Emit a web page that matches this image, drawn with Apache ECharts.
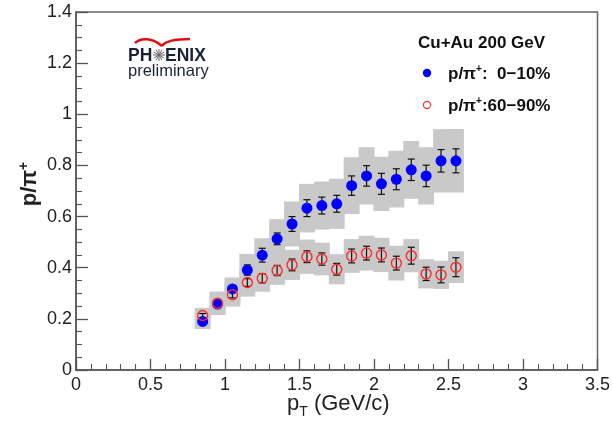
<!DOCTYPE html>
<html>
<head>
<meta charset="utf-8">
<script src="https://cdn.jsdelivr.net/npm/echarts@6/dist/echarts.min.js"></script>
<style>
  html, body { margin: 0; padding: 0; background: #fff; }
  #chart { width: 613px; height: 428px; }
</style>
</head>
<body>
<div id="chart"></div>
<script>
// pT bin centres (GeV/c)
const ptBins = [0.85, 0.95, 1.05, 1.15, 1.25, 1.35, 1.45, 1.55, 1.65, 1.75, 1.85, 1.95, 2.05, 2.15, 2.25, 2.35, 2.45, 2.55];

// p/pi+ 0-10% centrality
const central = [0.190, 0.258, 0.317, 0.391, 0.449, 0.513, 0.571, 0.633, 0.643, 0.650, 0.721, 0.759, 0.728, 0.746, 0.783, 0.759, 0.818, 0.818];
const centralStat = [0.008, 0.010, 0.012, 0.020, 0.027, 0.023, 0.029, 0.033, 0.033, 0.033, 0.038, 0.040, 0.041, 0.041, 0.042, 0.042, 0.044, 0.047];
const centralSys = [0.030, 0.040, 0.045, 0.063, 0.066, 0.077, 0.088, 0.095, 0.094, 0.098, 0.111, 0.112, 0.106, 0.111, 0.113, 0.112, 0.124, 0.124];

// p/pi+ 60-90% centrality
const peripheral = [0.213, 0.261, 0.294, 0.342, 0.359, 0.389, 0.411, 0.443, 0.434, 0.394, 0.446, 0.457, 0.450, 0.418, 0.447, 0.376, 0.372, 0.402];
const peripheralStat = [0.008, 0.010, 0.012, 0.015, 0.018, 0.020, 0.023, 0.023, 0.024, 0.023, 0.027, 0.027, 0.027, 0.027, 0.033, 0.026, 0.031, 0.037];
const peripheralSys = [0.030, 0.046, 0.046, 0.055, 0.053, 0.056, 0.059, 0.067, 0.064, 0.059, 0.066, 0.068, 0.067, 0.068, 0.065, 0.057, 0.055, 0.062];

const binWidth = 0.1;
const FONT = '"Liberation Sans", Arial, Helvetica, sans-serif';
const BOX_GRAY = '#c9c9c9';

function toRows(vals, stat, sys) {
  return ptBins.map((x, i) => [x, vals[i], stat[i], sys[i]]);
}
const centralRows = toRows(central, centralStat, centralSys);
const periphRows = toRows(peripheral, peripheralStat, peripheralSys);

function renderSysBox(params, api) {
  const x = api.value(0), y = api.value(1), s = api.value(3);
  const tl = api.coord([x - binWidth / 2, y + s]);
  const br = api.coord([x + binWidth / 2, y - s]);
  // widen by half a pixel so neighbouring boxes join without seams
  return {
    type: 'rect',
    shape: { x: tl[0] - 0.5, y: tl[1], width: br[0] - tl[0] + 1, height: br[1] - tl[1] },
    style: { fill: BOX_GRAY }
  };
}

function renderErrBar(params, api) {
  const x = api.value(0), y = api.value(1), e = api.value(2);
  const hi = api.coord([x, y + e]);
  const lo = api.coord([x, y - e]);
  const cap = 3.5;
  const st = { stroke: '#111', lineWidth: 1.2 };
  return {
    type: 'group',
    children: [
      { type: 'line', shape: { x1: hi[0], y1: hi[1], x2: lo[0], y2: lo[1] }, style: st },
      { type: 'line', shape: { x1: hi[0] - cap, y1: hi[1], x2: hi[0] + cap, y2: hi[1] }, style: st },
      { type: 'line', shape: { x1: lo[0] - cap, y1: lo[1], x2: lo[0] + cap, y2: lo[1] }, style: st }
    ]
  };
}

const chart = echarts.init(document.getElementById('chart'));

chart.setOption({
  animation: false,
  grid: {
    left: 76, right: 11, top: 12, bottom: 58,
    show: true, borderColor: '#666', borderWidth: 1.5, backgroundColor: 'transparent'
  },
  xAxis: {
    type: 'value', min: 0, max: 3.5, interval: 0.5,
    axisLine: { show: true, onZero: false, lineStyle: { color: '#555', width: 1.5 } },
    axisTick: { inside: true, length: 11, lineStyle: { color: '#555', width: 1.3 } },
    minorTick: { show: true, splitNumber: 5, length: 6, lineStyle: { color: '#555', width: 1.1 } },
    splitLine: { show: false },
    axisLabel: { color: '#222', fontSize: 18, fontFamily: FONT, margin: 6 }
  },
  yAxis: {
    type: 'value', min: 0, max: 1.4, interval: 0.2,
    axisLine: { show: true, onZero: false, lineStyle: { color: '#555', width: 1.5 } },
    axisTick: { inside: true, length: 12, lineStyle: { color: '#555', width: 1.3 } },
    minorTick: { show: true, splitNumber: 4, length: 6, lineStyle: { color: '#555', width: 1.1 } },
    splitLine: { show: false },
    axisLabel: { color: '#222', fontSize: 18, fontFamily: FONT, margin: 4 }
  },
  series: [
    { type: 'custom', name: 'sys central', data: centralRows, renderItem: renderSysBox, z: 1 },
    { type: 'custom', name: 'sys peripheral', data: periphRows, renderItem: renderSysBox, z: 1 },
    { type: 'custom', name: 'stat central', data: centralRows, renderItem: renderErrBar, z: 3 },
    { type: 'custom', name: 'stat peripheral', data: periphRows, renderItem: renderErrBar, z: 3 },
    {
      type: 'scatter', name: 'p/pi+ 0-10%', data: centralRows.map(r => [r[0], r[1]]),
      symbol: 'circle', symbolSize: 11, z: 4,
      itemStyle: { color: '#0000ff', opacity: 1 }
    },
    {
      type: 'scatter', name: 'p/pi+ 60-90%', data: periphRows.map(r => [r[0], r[1]]),
      symbol: 'circle', symbolSize: 10, z: 5,
      itemStyle: { color: 'rgba(0,0,0,0)', borderColor: '#ff2a2a', borderWidth: 1.4, opacity: 1 }
    }
  ],
  graphic: [
    // x axis title
    {
      type: 'text', left: 287, top: 393,
      style: {
        text: '{n|p}{t|T}{n| (GeV/c)}',
        rich: {
          n: { fontFamily: FONT, fontSize: 22, fill: '#222' },
          t: { fontFamily: FONT, fontSize: 14, fill: '#222', padding: [16, 0, 0, 0] }
        }
      }
    },
    // y axis title
    {
      type: 'text', x: 30, y: 184, rotation: Math.PI / 2,
      style: {
        text: '{n|p/π}{s|+}',
        align: 'center', verticalAlign: 'middle',
        rich: {
          n: { fontFamily: FONT, fontSize: 22, fontWeight: 'bold', fill: '#222' },
          s: { fontFamily: FONT, fontSize: 14, fontWeight: 'bold', fill: '#222', padding: [0, 0, 12, 0] }
        }
      }
    },
    // legend
    {
      type: 'text', x: 418, y: 43,
      style: { text: 'Cu+Au 200 GeV', font: 'bold 17px ' + FONT, fill: '#111', verticalAlign: 'middle' }
    },
    { type: 'circle', shape: { cx: 427, cy: 73, r: 4.2 }, style: { fill: '#0000ff' } },
    {
      type: 'text', x: 448, y: 74,
      style: {
        text: '{n|p/π}{s|+}{n|:  0−10%}', verticalAlign: 'middle',
        rich: {
          n: { fontFamily: FONT, fontSize: 17, fontWeight: 'bold', fill: '#111' },
          s: { fontFamily: FONT, fontSize: 10, fontWeight: 'bold', fill: '#111', padding: [0, 0, 9, 0] }
        }
      }
    },
    { type: 'circle', shape: { cx: 427, cy: 105, r: 3.6 }, style: { fill: 'none', stroke: '#ff3030', lineWidth: 1.2 } },
    {
      type: 'text', x: 448, y: 106,
      style: {
        text: '{n|p/π}{s|+}{n|:60−90%}', verticalAlign: 'middle',
        rich: {
          n: { fontFamily: FONT, fontSize: 17, fontWeight: 'bold', fill: '#111' },
          s: { fontFamily: FONT, fontSize: 10, fontWeight: 'bold', fill: '#111', padding: [0, 0, 9, 0] }
        }
      }
    },
    // PHENIX logo
    {
      type: 'bezierCurve',
      shape: { x1: 135, y1: 43, x2: 162, y2: 46, cpx1: 141, cpy1: 37, cpx2: 153, cpy2: 38 },
      style: { stroke: '#e01010', lineWidth: 2.5, fill: 'none' }
    },
    {
      type: 'bezierCurve',
      shape: { x1: 162, y1: 46, x2: 190, y2: 39, cpx1: 166, cpy1: 40, cpx2: 177, cpy2: 39 },
      style: { stroke: '#e01010', lineWidth: 2.5, fill: 'none' }
    },
    { type: 'text', x: 128, y: 56, style: { text: 'PH', font: 'bold 17.5px ' + FONT, fill: '#1a2238', verticalAlign: 'middle' } },
    { type: 'text', x: 165, y: 56, style: { text: 'ENIX', font: 'bold 17.5px ' + FONT, fill: '#1a2238', verticalAlign: 'middle' } },
    {
      type: 'group', x: 159, y: 55,
      children: [0, 1, 2, 3, 4, 5, 6, 7, 8, 9, 10, 11].map(k => ({
        type: 'line',
        shape: { x1: 0, y1: 0, x2: 6 * Math.cos(k * Math.PI / 6), y2: 6 * Math.sin(k * Math.PI / 6) },
        style: { stroke: '#666', lineWidth: 1 }
      }))
    },
    { type: 'text', x: 128, y: 71, style: { text: 'preliminary', font: '16.5px ' + FONT, fill: '#1a2238', verticalAlign: 'middle' } }
  ]
});
</script>
</body>
</html>
